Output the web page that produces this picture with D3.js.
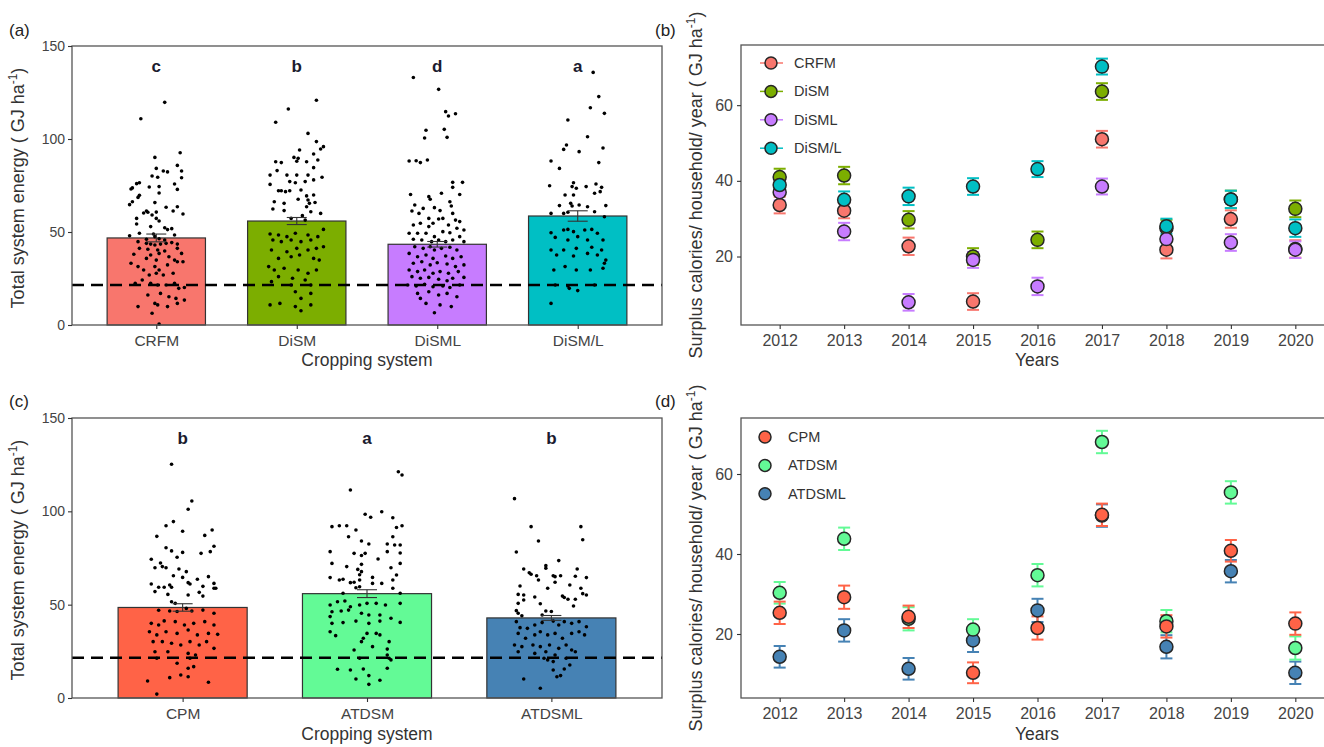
<!DOCTYPE html>
<html>
<head>
<meta charset="utf-8">
<script src="https://cdn.jsdelivr.net/npm/d3@7"></script>
<style>
  body { margin: 0; background: #fff; }
  svg text { font-family: "Liberation Sans", Arial, sans-serif; }
</style>
</head>
<body>
<script>

// ---- panel (a) : bars + raw points ----
var catsA = ["CRFM", "DiSM", "DiSML", "DiSM/L"];
var meansA = [46.8, 55.9, 43.4, 58.6];
var seA = [2.1, 1.9, 1.5, 2.8];
var lettersA = ["c", "b", "d", "a"];
var colorsA = ["#F8766D", "#7CAE00", "#C77CFF", "#00BFC4"];
var refLineA = 21.5;

// each point: [jitter (fraction of category step), value]
var crfmPts = [[.06,119.7],[-.11,110.9],[.17,92.6],[-.01,90.1],[.15,85.8],[0,84.2],[.05,82.8],[.08,82.3],[.18,82.8],[-.03,80.1],[.01,79.4],[.18,79.2],[-.12,76.5],[-.14,76.0],[-.17,73.7],[-.18,73.1],[-.05,74.2],[.02,74.4],[.13,75.8],[.15,72.9],[.02,71.0],[-.12,69.7],[-.13,68.6],[-.01,65.8],[-.19,64.7],[-.17,66.3],[-.07,61.3],[-.09,60.2],[-.06,60.6],[0,60.7],[-.03,59.1],[.07,63.3],[.12,61.3],[.15,63.6],[.19,59.7],[-.14,57.3],[0,57.3],[.02,55.9],[-.14,54.3],[-.04,52.9],[.06,52.3],[.08,51.3],[.11,51.8],[-.19,48.0],[-.12,49.3],[-.02,48.9],[-.01,47.5],[.02,46.4],[-.07,46.1],[.06,45.7],[.13,48.4],
  [-.13,44.8],[-.07,43.9],[-.04,43.5],[-.01,43.0],[.03,43.5],[.07,43.9],[.11,44.3],[.15,43.5],[-.12,41.2],[-.06,40.7],[.01,40.3],[.06,39.8],[.15,41.2],[.18,38.5],[-.16,38.0],[-.04,37.6],[.02,38.5],[.09,36.7],[-.07,35.8],[0,34.9],[.13,34.9],[-.18,33.2],[-.13,31.4],[-.09,29.6],[-.01,31.4],[.02,29.6],[.08,32.3],[.15,34.0],[.19,34.0],[-.05,26.9],[0,27.8],[.05,26.9],[.12,27.8],[-.1,24.2],[-.15,22.4],[-.04,22.4],[.01,21.5],[.07,21.5],[.13,22.4],[.16,19.7],[.2,20.2],[-.06,16.1],[.03,17.0],[.09,15.2],[.14,14.3],[-.01,11.6],[.01,10.8],[.08,9.9],[-.13,9.9],[.15,11.6],[.2,13.4],[-.03,6.3],[.02,0.5]];

var dismPts = [[.14,120.8],[-.06,116.1],[-.15,109.0],[.08,103.0],[.14,98.6],[.19,95.9],[.17,94.6],[.02,94.1],[.12,91.9],[-.02,90.1],[.01,89.6],[-.15,87.8],[-.11,87.3],[0,88.0],[.07,87.8],[.15,88.7],[.12,84.6],[-.14,83.0],[-.19,80.6],[-.07,80.6],[0,80.6],[.08,80.6],[.18,79.4],[-.05,77.1],[-.01,76.5],[.06,77.1],[.12,78.0],[-.19,75.6],[-.13,72.2],[-.11,72.2],[-.08,71.7],[-.05,72.2],[.03,72.6],[.07,69.4],[.12,69.9],[.08,67.2],[.09,65.4],[-.16,66.3],[-.09,65.4],[.01,67.6],[.13,65.9],[-.17,62.4],[-.09,61.5],[.07,63.6],[.1,60.9],[.17,60.0],[.04,58.8],[-.04,57.3],[.06,56.4],
  [-.19,48.9],[-.13,48.4],[-.07,47.5],[-.01,49.3],[.08,48.4],[.15,47.5],[.19,51.4],[-.17,45.7],[-.11,44.8],[-.04,45.7],[.03,44.8],[.1,45.7],[.19,42.1],[-.18,40.3],[-.07,39.4],[0,41.2],[.08,40.3],[.14,41.2],[-.13,35.8],[-.04,36.7],[.02,37.6],[.12,35.8],[.16,34.9],[-.2,31.4],[-.16,29.6],[-.09,30.5],[.01,29.6],[.08,27.8],[.14,29.6],[-.13,26.0],[-.03,25.1],[.06,24.2],[-.18,23.3],[-.04,21.5],[.1,21.5],[-.01,17.9],[.1,17.0],[.03,14.3],[-.19,10.8],[-.12,11.6],[-.01,9.9],[.03,7.7],[.1,10.8]];

var dismlPts = [[-.17,133.1],[.01,126.7],[.06,114.7],[.08,112.4],[.13,113.6],[-.08,104.7],[-.09,100.5],[.05,105.2],[.07,100.9],[-.2,88.2],[-.15,88.3],[-.12,87.3],[-.07,88.7],[.11,76.7],[.18,76.7],[.11,74.0],[-.19,70.2],[-.06,69.0],[.03,70.8],[.16,70.2],[-.05,67.6],[.09,66.3],[-.16,64.5],[-.1,62.7],[-.02,63.1],[.01,57.0],[.1,64.0],[-.18,61.3],[-.13,60.0],[-.06,57.3],[.02,61.5],[.04,57.3],[.11,60.0],[.13,56.4],[.16,55.6],[.19,51.1],[-.17,53.8],[-.12,54.7],[-.06,52.9],[-.03,54.7],[.08,53.8],[.14,52.0],[-.2,49.3],[-.14,49.3],[-.08,49.3],[-.02,47.5],[.04,50.2],[.09,49.6],[.16,47.5],[-.17,46.1],[-.11,45.7],[-.04,44.8],[.01,45.7],[.06,44.8],[.11,45.7],[.19,44.8],
  [-.16,42.1],[-.1,41.2],[-.05,42.1],[-.02,40.3],[.03,41.2],[.09,41.8],[.14,40.3],[-.2,38.5],[-.14,36.7],[-.08,37.6],[-.03,35.8],[.06,37.1],[.11,35.8],[.17,36.7],[-.17,33.2],[-.11,34.0],[-.05,32.3],[0,33.5],[.07,32.8],[.13,31.4],[.19,32.3],[-.2,29.6],[-.14,28.7],[-.09,29.6],[-.03,27.8],[.02,28.7],[.08,27.8],[.15,28.7],[-.18,26.0],[-.12,25.1],[-.06,25.6],[.01,24.6],[.07,23.8],[.11,25.1],[.19,25.6],[-.21,21.5],[-.15,21.0],[-.09,21.9],[-.03,20.6],[.04,21.0],[.09,20.2],[.16,21.5],[-.14,17.0],[-.06,17.9],[.01,16.1],[.07,17.0],[.14,15.2],[-.08,11.6],[.02,10.8],[.1,9.9],[-.02,6.6],[-.12,14.3]];

var dismSlashLPts = [[.11,135.8],[.15,122.8],[.09,116.8],[.19,113.8],[-.07,110.2],[.07,101.2],[-.1,94.4],[-.08,96.8],[.01,93.2],[.18,95.2],[-.19,88.2],[.15,87.3],[-.13,84.2],[-.2,74.9],[-.03,76.5],[-.04,74.4],[-.01,73.5],[.06,74.4],[.13,75.8],[.17,74.0],[-.09,69.9],[-.03,69.9],[.12,70.8],[.16,71.7],[-.13,64.2],[-.05,65.4],[-.04,64.0],[.01,64.5],[.07,63.6],[.2,64.2],[-.1,60.0],[-.07,60.6],[-.19,60.0],[.19,58.2],[.12,60.9],
  [-.19,49.6],[-.1,51.1],[-.07,51.4],[-.03,50.2],[.05,51.1],[.1,51.4],[.14,49.3],[-.16,47.1],[-.07,45.7],[0,47.5],[.07,45.7],[.18,45.7],[-.19,40.3],[-.1,40.3],[-.01,41.2],[.1,41.8],[.17,40.3],[-.15,37.6],[-.03,37.1],[.07,38.5],[.14,37.6],[.2,34.9],[-.17,29.6],[-.09,31.4],[-.01,29.6],[.09,29.6],[.18,30.5],[.19,33.2],[-.16,21.5],[-.06,19.7],[0,18.5],[.12,21.5],[-.19,11.6],[-.07,21.0]];

// ---- panel (c) : bars + raw points ----
var catsC = ["CPM", "ATDSM", "ATDSML"];
var meansC = [48.5, 55.9, 42.9];
var seC = [2.0, 2.1, 1.3];
var lettersC = ["b", "a", "b"];
var colorsC = ["#FF6347", "#63FA96", "#4682B4"];
var refLineC = 21.6;

var cpmPts = [[-.06,125.2],[.05,105.5],[.03,101.1],[-.09,92.3],[-.05,94.5],[0,89.3],[.16,90.0],[.12,87.1],[-.14,86.6],[-.09,80.5],[-.06,78.8],[0,78.0],[.17,81.3],[.15,78.4],[.1,77.5],[-.03,75.4],[-.17,74.3],[-.12,72.3],[-.11,70.4],[-.09,69.8],[-.15,69.8],[-.02,69.1],[.02,67.7],[-.05,65.5],[0,64.6],[.08,63.6],[.14,65.0],[.17,61.4],[.18,58.8],[.17,58.8],[-.17,61.1],[-.13,59.3],[-.1,59.3],[-.07,60.5],[-.06,59.3],[.03,61.8],[.04,61.1],[.11,59.8],[-.15,57.0],[-.08,55.5],[.03,55.2],[.09,56.6],[.11,54.6],[-.06,51.6],[-.04,50.7],
  [-.13,47.0],[-.07,46.6],[-.03,46.3],[.02,48.0],[.05,46.6],[.11,47.1],[.17,45.4],[-.17,40.0],[-.13,39.1],[-.1,41.3],[-.04,40.9],[.01,39.1],[.06,40.0],[.12,40.9],[.17,39.1],[-.18,35.5],[-.14,33.8],[-.09,35.5],[-.03,34.6],[.03,36.4],[.08,33.8],[.14,34.6],[.19,34.1],[-.16,30.2],[-.11,30.2],[-.06,29.3],[-.01,28.4],[.04,30.2],[.09,28.4],[.13,30.2],[.17,26.6],[-.15,24.8],[-.08,24.8],[.03,23.9],[.07,23.0],[-.14,21.3],[.04,21.3],[-.03,18.6],[.03,15.9],[.06,16.8],[-.01,12.3],[-.07,10.9],[.03,11.4],[-.19,9.1],[.14,8.4],[-.14,2.1]];

var atdsmPts = [[.17,121.2],[.19,119.5],[-.09,111.4],[-.01,98.4],[.02,96.8],[.08,99.8],[.14,96.6],[-.19,91.8],[-.15,92.3],[-.11,92.3],[-.06,90.0],[.16,91.3],[.19,92.3],[-.1,86.4],[-.03,84.1],[.14,86.4],[.01,82.5],[.11,82.5],[.15,82.0],[.18,82.0],[-.2,78.4],[-.07,77.5],[-.03,76.3],[-.01,77.5],[.06,74.5],[.11,78.4],[.18,77.7],[-.19,72.1],[-.11,70.4],[-.05,68.9],[-.03,71.6],[-.03,67.7],[.13,69.8],[.18,72.1],[.16,65.9],[-.2,64.5],[-.15,63.2],[-.13,63.6],[-.04,66.0],[-.04,63.2],[.03,64.6],[-.07,62.0],[.03,61.4],[.08,61.4],[-.09,61.8],[.14,63.2],[.14,58.8],[-.13,56.1],[-.06,59.1],[-.04,59.6],[.18,56.1],
  [-.2,49.8],[-.16,51.6],[-.12,52.0],[-.09,48.9],[-.04,49.8],[0,50.7],[.05,50.7],[.1,49.8],[.18,50.7],[-.19,46.2],[-.14,46.6],[-.1,47.1],[-.03,45.4],[.01,44.5],[.07,44.5],[.13,42.7],[.18,40.5],[-.2,43.6],[-.19,40.0],[-.13,40.4],[-.06,41.2],[.01,40.0],[.07,41.2],[-.2,35.5],[-.17,33.4],[-.03,30.2],[0,34.6],[.05,34.6],[.07,33.8],[.12,30.2],[-.02,32.0],[-.07,25.7],[.03,27.5],[.11,26.2],[.11,23.0],[-.04,21.3],[.12,21.3],[.13,20.4],[-.16,15.4],[-.09,15.0],[-.02,15.5],[.11,15.9],[-.06,10.2],[.01,12.0],[.07,9.5],[.01,7.3]];

var atdsmlPts = [[-.2,106.8],[-.11,91.8],[.16,91.8],[.17,84.8],[-.07,84.1],[-.19,78.2],[.04,73.6],[-.15,69.1],[-.03,70.9],[-.03,69.5],[-.12,67.1],[-.11,66.3],[-.08,65.5],[.01,65.5],[.02,65.0],[.05,65.5],[.14,69.1],[.13,65.2],[.19,64.5],[-.07,63.2],[-.02,58.8],[.02,62.0],[-.17,60.0],[.1,60.5],[.16,58.8],[.17,55.9],[.19,55.2],[-.18,55.5],[-.15,55.2],[-.09,54.1],[.06,54.6],[.07,53.8],[.09,52.9],[.13,52.9],[-.18,50.7],[-.15,52.5],[-.06,50.5],[.12,49.3],[-.19,46.8],[-.18,45.4],[-.03,46.6],[0,46.3],[-.16,44.1],[-.05,44.5],
  [-.19,40.9],[-.17,37.7],[-.13,37.3],[-.09,39.1],[-.05,40.4],[.01,41.2],[.04,39.1],[.07,40.9],[.11,40.0],[.15,40.9],[.19,38.2],[-.18,34.6],[-.14,32.0],[-.09,33.8],[-.06,35.5],[-.02,33.8],[.02,34.6],[.06,32.0],[.11,34.6],[.15,35.5],[.18,33.8],[-.2,28.4],[-.16,27.5],[-.1,28.4],[-.06,27.5],[-.01,28.4],[.04,26.6],[.08,28.4],[.11,25.7],[-.18,24.8],[-.09,23.9],[-.03,24.8],[.02,23.0],[.13,24.8],[-.04,21.3],[-.02,20.4],[.01,19.5],[.08,21.3],[.1,17.7],[.01,15.0],[.07,15.5],[.03,11.4],[.05,12.0],[-.15,10.2],[-.06,5.2]];

// ---- panel (b) : yearly means ----
var years = ["2012", "2013", "2014", "2015", "2016", "2017", "2018", "2019", "2020"];
var seriesB = ["CRFM", "DiSM", "DiSML", "DiSM/L"];
var colorsB = ["#F8766D", "#7CAE00", "#C77CFF", "#00BFC4"];
var crfmYr = [33.6, 32.1, 22.7, 8.1, null, 51.0, 21.8, 29.9, 22.0];
var dismYr = [41.0, 41.4, 29.7, 20.0, 24.4, 63.6, 27.5, 35.1, 32.6];
var dismlYr = [37.0, 26.6, 7.9, 19.1, 12.1, 38.5, 24.6, 23.7, 21.8];
var dismSlashLYr = [38.9, 35.0, 35.9, 38.5, 43.1, 70.2, 28.0, 35.1, 27.5];
var crfmYrSe = [2.2, 2.0, 2.3, 2.2, null, 2.2, 2.3, 2.3, 2.3];
var dismYrSe = [2.2, 2.3, 2.3, 2.2, 2.2, 2.2, 2.2, 2.3, 2.2];
var dismlYrSe = [2.2, 2.3, 2.2, 2.1, 2.3, 2.1, 2.2, 2.2, 2.2];
var dismSlashLYrSe = [2.3, 2.2, 2.3, 2.2, 2.1, 2.1, 2.0, 2.3, 2.3];

// ---- panel (d) : yearly means ----
var seriesD = ["CPM", "ATDSM", "ATDSML"];
var colorsD = ["#FF6347", "#63FA96", "#4682B4"];
var cpmYr = [25.3, 29.2, 24.3, 10.3, 21.5, 49.8, 21.9, 40.8, 22.6];
var atdsmYr = [30.3, 43.8, 23.8, 21.1, 34.7, 68.0, 23.2, 55.4, 16.5];
var atdsmlYr = [14.3, 20.9, 11.3, 18.4, 25.9, 49.6, 16.8, 35.7, 10.3];
var cpmYrSe = [2.8, 2.9, 2.8, 2.6, 2.9, 2.8, 2.8, 2.7, 2.8];
var atdsmYrSe = [2.7, 2.8, 2.9, 2.6, 2.8, 2.8, 2.8, 2.8, 2.9];
var atdsmlYrSe = [2.7, 2.8, 2.7, 2.9, 2.9, 2.8, 2.9, 2.8, 2.8];


var svg = d3.select("body").append("svg")
  .attr("width", 1324)
  .attr("height", 747)
  .style("background", "#fff");

var tickCol = "#333";
var labCol = "#444";

function yTitle(x, y, main) {
  var t = svg.append("text")
    .attr("transform", "translate(" + x + "," + y + ") rotate(-90)")
    .attr("text-anchor", "middle")
    .style("font-size", "18px")
    .style("fill", "#333");
  t.append("tspan").text(main);
  t.append("tspan").attr("dy", -7).style("font-size", "12px").text("-1");
  t.append("tspan").attr("dy", 7).text(")");
}

function styleAxis(a, fs) {
  a.select(".domain").remove();
  a.selectAll("line").style("stroke", tickCol).style("stroke-width", 1.1);
  a.selectAll("text").style("fill", labCol).style("font-size", fs).style("font-family", "Liberation Sans, Arial, sans-serif");
}

function buildBars(top, bottom, cats, means, ses, letters, colors, pts, refLine) {
  var left = 72, right = 662;

  var x = d3.scalePoint().domain(cats).range([left, right]).padding(0.6);
  var y = d3.scaleLinear().domain([0, 150]).range([bottom, top]);
  var step = x.step();
  var g = svg.append("g");

  // bars
  g.selectAll("rect.bar").data(cats).enter().append("rect")
    .attr("x", d => x(d) - step * 0.35)
    .attr("width", step * 0.7)
    .attr("y", (d, i) => y(means[i]))
    .attr("height", (d, i) => y(0) - y(means[i]))
    .style("fill", (d, i) => colors[i])
    .style("stroke", "#333")
    .style("stroke-width", 1.2);

  // raw points
  cats.forEach(function (c, i) {
    g.append("g").selectAll("circle").data(pts[i]).enter().append("circle")
      .attr("cx", d => x(c) + d[0] * step)
      .attr("cy", d => y(d[1]))
      .attr("r", 1.8)
      .style("fill", "#000");
  });

  // error bars
  cats.forEach(function (c, i) {
    var cx = x(c), hw = 10;
    var e = g.append("g").style("stroke", "#333").style("stroke-width", 1.1);
    e.append("line").attr("x1", cx).attr("x2", cx).attr("y1", y(means[i] - ses[i])).attr("y2", y(means[i] + ses[i]));
    e.append("line").attr("x1", cx - hw).attr("x2", cx + hw).attr("y1", y(means[i] - ses[i])).attr("y2", y(means[i] - ses[i]));
    e.append("line").attr("x1", cx - hw).attr("x2", cx + hw).attr("y1", y(means[i] + ses[i])).attr("y2", y(means[i] + ses[i]));
  });

  // dashed reference line
  g.append("line")
    .attr("x1", left).attr("x2", right)
    .attr("y1", y(refLine)).attr("y2", y(refLine))
    .style("stroke", "#000")
    .style("stroke-width", 2.6)
    .style("stroke-dasharray", "12,7");

  // significance letters
  g.selectAll("text.let").data(letters).enter().append("text")
    .attr("x", (d, i) => x(cats[i]))
    .attr("y", y(136))
    .attr("text-anchor", "middle")
    .style("font-size", "17px")
    .style("font-weight", "bold")
    .style("fill", "#1b1b2f")
    .text(d => d);

  // panel border
  g.append("rect")
    .attr("x", left).attr("y", top)
    .attr("width", right - left).attr("height", bottom - top)
    .style("fill", "none").style("stroke", "#555").style("stroke-width", 1.3);

  // Add X axis
  var ax = g.append("g").attr("transform", "translate(0," + bottom + ")")
    .call(d3.axisBottom(x).tickSize(4).tickPadding(6));
  styleAxis(ax, "15.5px");

  // Add Y axis
  var ay = g.append("g").attr("transform", "translate(" + left + ",0)")
    .call(d3.axisLeft(y).tickValues([0, 50, 100, 150]).tickSize(4).tickPadding(3));
  styleAxis(ay, "14px");
}

function buildYears(top, bottom, yDomain, names, colors, vals, ses, order, legendLine, legX, legY) {
  var left = 741, right = 1334;

  var x = d3.scalePoint().domain(years).range([left, right]).padding(0.6);
  var y = d3.scaleLinear().domain(yDomain).range([bottom, top]);
  var g = svg.append("g");

  // error bars first
  order.forEach(function (s) {
    var eg = g.append("g").style("stroke", colors[s]).style("stroke-width", 2);
    years.forEach(function (yr, j) {
      var v = vals[s][j];
      if (v == null) return;
      var cx = x(yr), hw = 6, lo = y(v - ses[s][j]), hi = y(v + ses[s][j]);
      eg.append("line").attr("x1", cx).attr("x2", cx).attr("y1", lo).attr("y2", hi);
      eg.append("line").attr("x1", cx - hw).attr("x2", cx + hw).attr("y1", lo).attr("y2", lo);
      eg.append("line").attr("x1", cx - hw).attr("x2", cx + hw).attr("y1", hi).attr("y2", hi);
    });
  });

  // Add dots
  order.forEach(function (s) {
    g.append("g").selectAll("circle")
      .data(years.map((yr, j) => [yr, vals[s][j]]).filter(d => d[1] != null))
      .enter().append("circle")
      .attr("cx", d => x(d[0]))
      .attr("cy", d => y(d[1]))
      .attr("r", 6.5)
      .style("fill", colors[s])
      .style("stroke", "#262626")
      .style("stroke-width", 1.5);
  });

  // legend
  names.forEach(function (n, i) {
    var ly = legY + i * 28.4;
    if (legendLine) {
      g.append("line").attr("x1", legX - 11).attr("x2", legX + 12).attr("y1", ly).attr("y2", ly)
        .style("stroke", colors[i]).style("stroke-width", 1.5);
    }
    g.append("circle").attr("cx", legX).attr("cy", ly).attr("r", 6)
      .style("fill", colors[i]).style("stroke", "#262626").style("stroke-width", 1.5);
    g.append("text").attr("x", legX + 23).attr("y", ly).attr("dy", "0.35em")
      .style("font-size", "14.5px").style("fill", "#333").text(n);
  });

  // panel border
  g.append("rect")
    .attr("x", left).attr("y", top)
    .attr("width", right - left).attr("height", bottom - top)
    .style("fill", "none").style("stroke", "#555").style("stroke-width", 1.3);

  // Add X axis
  var ax = g.append("g").attr("transform", "translate(0," + bottom + ")")
    .call(d3.axisBottom(x).tickSize(4).tickPadding(6));
  styleAxis(ax, "16px");

  // Add Y axis
  var ay = g.append("g").attr("transform", "translate(" + left + ",0)")
    .call(d3.axisLeft(y).tickValues([20, 40, 60]).tickSize(4).tickPadding(4));
  styleAxis(ay, "16px");
}

buildBars(46, 325, catsA, meansA, seA, lettersA, colorsA,
  [crfmPts, dismPts, dismlPts, dismSlashLPts], refLineA);
buildBars(418, 698, catsC, meansC, seC, lettersC, colorsC,
  [cpmPts, atdsmPts, atdsmlPts], refLineC);

buildYears(45, 325, [1.9, 75.9], seriesB, colorsB,
  [crfmYr, dismYr, dismlYr, dismSlashLYr],
  [crfmYrSe, dismYrSe, dismlYrSe, dismSlashLYrSe],
  [0, 1, 2, 3], true, 771, 63);
buildYears(418, 698, [4.0, 74.0], seriesD, colorsD,
  [cpmYr, atdsmYr, atdsmlYr],
  [cpmYrSe, atdsmYrSe, atdsmlYrSe],
  [2, 1, 0], false, 765, 437);

// axis titles
yTitle(24, 188, "Total system energy ( GJ ha");
yTitle(24, 560, "Total system energy ( GJ ha");
yTitle(702, 185, "Surplus calories/ household/ year ( GJ ha");
yTitle(702, 558, "Surplus calories/ household/ year ( GJ ha");

[[367, 366, "Cropping system"], [1037, 366, "Years"], [367, 740, "Cropping system"], [1037, 740, "Years"]]
  .forEach(function (t) {
    svg.append("text").attr("x", t[0]).attr("y", t[1]).attr("text-anchor", "middle")
      .style("font-size", "17.5px").style("fill", "#333").text(t[2]);
  });

// panel tags
[[9, 36, "(a)"], [655, 36, "(b)"], [9, 407, "(c)"], [655, 407, "(d)"]]
  .forEach(function (t) {
    svg.append("text").attr("x", t[0]).attr("y", t[1])
      .style("font-size", "17px").style("fill", "#222").text(t[2]);
  });

</script>
</body>
</html>
